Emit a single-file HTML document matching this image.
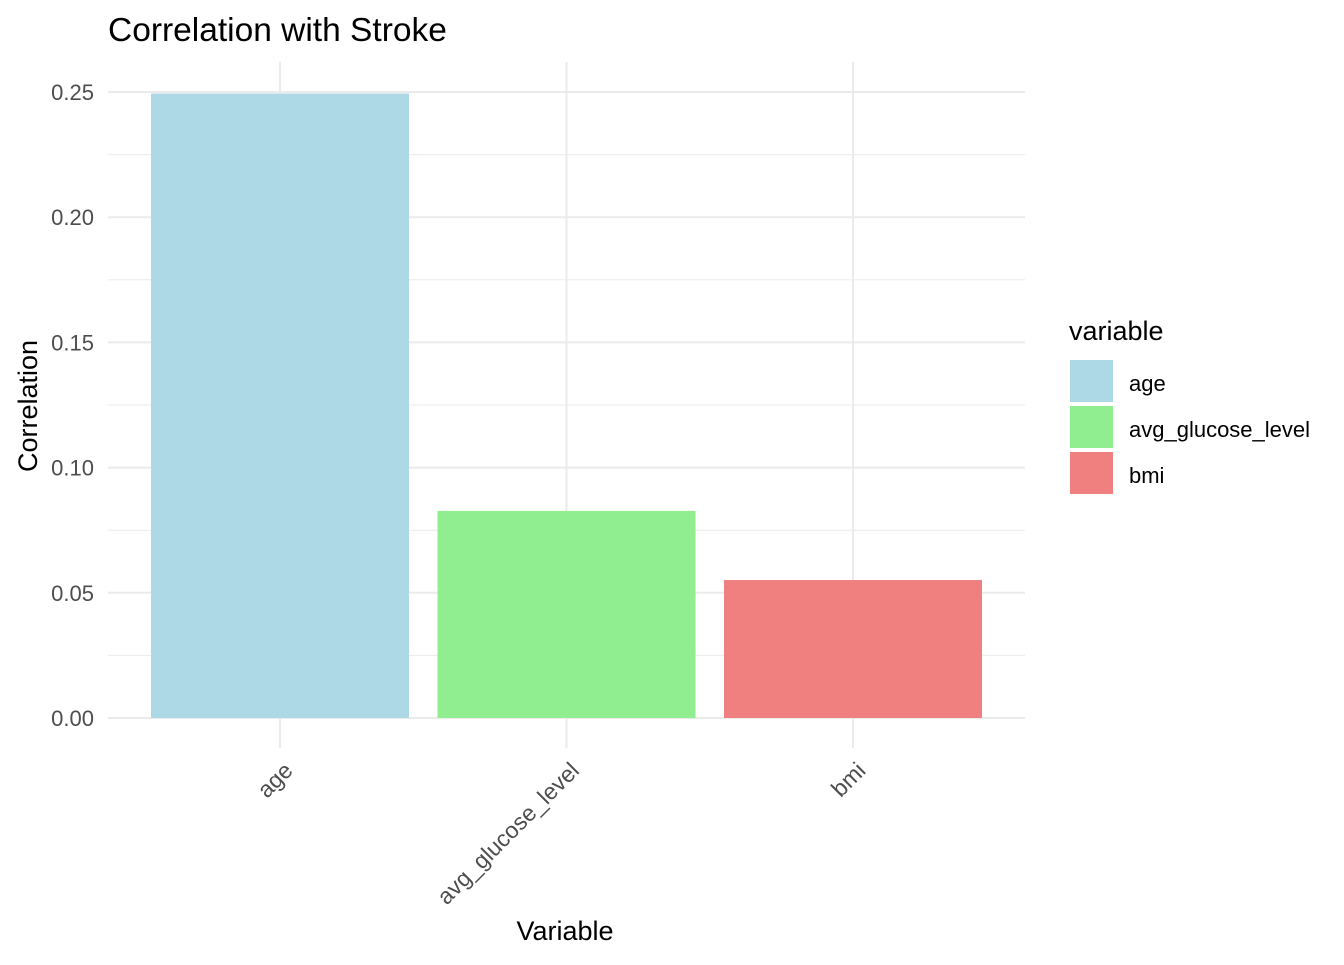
<!DOCTYPE html>
<html><head><meta charset="utf-8"><style>
body{margin:0;background:#fff}
svg text{font-family:"Liberation Sans",Arial,sans-serif}
</style></head><body>
<svg id="chart" width="1344" height="960" viewBox="0 0 1344 960">
<text x="108" y="41" font-size="33.5" fill="#000">Correlation with Stroke</text>
<g id="grid"></g><g id="bars"></g><g id="axes"></g>
<text x="565" y="940" font-size="27" text-anchor="middle">Variable</text>
<text transform="translate(37,406) rotate(-90)" font-size="27" text-anchor="middle">Correlation</text>
<g id="legend">
<text x="1069" y="340" font-size="27">variable</text>
</g>
</svg>
<script>
const categories = ["age","avg_glucose_level","bmi"];
const values = [0.2494, 0.0827, 0.0551];
const colors = ["#ADD8E6","#90EE90","#F08080"];
const yTicks = [0,0.05,0.10,0.15,0.20,0.25];
const yTickLabels = ["0.00","0.05","0.10","0.15","0.20","0.25"];
const ns="http://www.w3.org/2000/svg";
const L=108,R=1025,T=62,B=748;
const y0=718, y25=92;
const y=v=>y0-(y0-y25)*v/0.25;
const step=286.5;
const x=i=>280+step*i;
function mk(tag,attrs,parent){const e=document.createElementNS(ns,tag);for(const k in attrs)e.setAttribute(k,attrs[k]);parent.appendChild(e);return e;}
const grid=document.getElementById('grid'),bars=document.getElementById('bars'),axes=document.getElementById('axes'),leg=document.getElementById('legend');
for(let i=0;i<yTicks.length-1;i++){const m=(yTicks[i]+yTicks[i+1])/2;
 const g=mk('line',{x1:L,x2:R,y1:y(m),y2:y(m),stroke:"#EBEBEB","stroke-width":1},grid);
 
 }
yTicks.forEach((t,i)=>{
 const g=mk('line',{x1:L,x2:R,y1:y(t),y2:y(t),stroke:"#EBEBEB","stroke-width":2},grid);
 
 
 const tx=mk('text',{x:94,y:y(t)+8,"font-size":22,fill:"#4D4D4D","text-anchor":"end"},axes);
 tx.textContent=yTickLabels[i];
 
 
});
categories.forEach((c,i)=>{
 const g=mk('line',{x1:x(i),x2:x(i),y1:T,y2:B,stroke:"#EBEBEB","stroke-width":2},grid);
 
 
 const w=258;
 const r=mk('rect',{x:x(i)-w/2,y:y(values[i]),width:w,height:y(0)-y(values[i]),fill:colors[i]},bars);
 
 
 const tx=mk('text',{transform:`translate(${x(i)+14},${772}) rotate(-45)`,"font-size":23,fill:"#4D4D4D","text-anchor":"end"},axes);
 tx.textContent=c;
 
 
 const k=mk('rect',{x:1070,y:360+i*46,width:43,height:42,fill:colors[i]},leg);
 
 
 const lt=mk('text',{x:1129,y:391+i*46,"font-size":22,fill:"#000"},leg);
 lt.textContent=c;
 
 
});
</script>
</body></html>
